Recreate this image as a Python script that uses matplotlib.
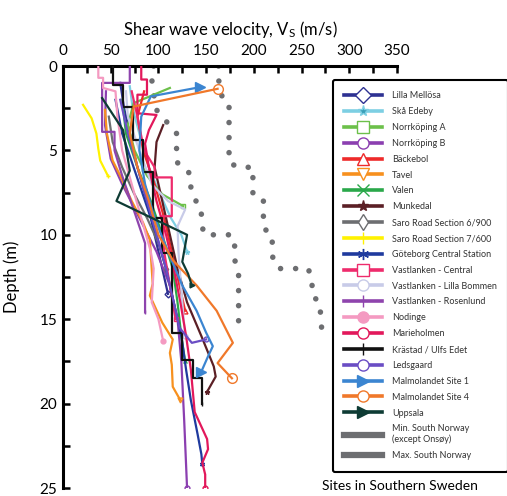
import matplotlib
matplotlib.use("Agg")
import matplotlib.pyplot as plt
from matplotlib.lines import Line2D
from matplotlib.ticker import MultipleLocator

plt.rcParams['font.family'] = ['Lato', 'DejaVu Sans']
plt.rcParams['mathtext.default'] = 'regular'

# ---- velocity profiles, Vs (m/s) against depth (m) ----
lilla_mellosa_v = [60, 64, 70, 78, 88, 96, 104, 110]
lilla_mellosa_d = [1.0, 2.5, 4, 6, 8, 10, 12, 13.5]
ska_edeby_v = [70, 73, 80, 90, 101, 113, 124, 130]
ska_edeby_d = [1.2, 2.5, 4, 6, 7.5, 9, 10, 11]
norrkoping_a_v = [112, 74, 68, 75, 88, 104, 126]
norrkoping_a_d = [1.3, 2.2, 3.5, 5, 6.5, 7.6, 8.3]
norrkoping_b_v = [45, 44, 50, 62, 80, 98, 112, 120, 124, 127, 130]
norrkoping_b_d = [1.5, 3.5, 5.5, 7, 9, 11, 13, 15, 17.5, 21, 25]
backebol_v = [85, 78, 84, 96, 106, 114, 122, 128]
backebol_d = [1.5, 3, 5, 7, 9, 11, 13, 14.5]
tavel_v = [44, 46, 52, 60, 72, 84, 91, 94, 91, 104, 115, 112, 114, 115, 123]
tavel_d = [2.6, 4, 5.6, 6.5, 8, 9.3, 10.3, 12.9, 13.6, 15.2, 16.2, 17, 17.7, 19, 19.8]
valen_v = [62, 66, 78, 92, 104, 115, 120, 124, 128]
valen_d = [2, 4, 6, 8, 10, 12, 14, 16, 17.5]
munkedal_v = [105, 98, 96, 104, 112, 120, 130, 145, 158, 160, 151]
munkedal_d = [3.5, 4.5, 6, 8, 10, 12, 14, 16, 17.8, 18.4, 19.3]
saro_6900_v = [48, 52, 62, 74, 88, 100, 108]
saro_6900_d = [3, 4.5, 6, 7.5, 9, 10.5, 12]
saro_7600_v = [21, 30, 35, 37, 39, 47]
saro_7600_d = [2.3, 3.1, 4.0, 4.9, 5.6, 6.5]
goteborg_v = [55, 62, 74, 86, 98, 108, 116, 124, 129, 134, 141, 145, 146]
goteborg_d = [2, 4, 6, 8, 10, 12, 14, 16, 18, 19.8, 21.8, 23, 23.6]
vl_central_v = [72, 78, 85, 96, 96, 114, 114, 104, 106, 112, 118]
vl_central_d = [1.5, 3, 5, 6, 6.6, 6.6, 8.9, 8.9, 11, 13, 15]
vl_bommen_v = [66, 68, 80, 93, 110, 128, 120, 121, 125, 128]
vl_bommen_d = [1.5, 3, 5, 7, 8, 8.5, 9.5, 11, 14, 16]
vl_rosenlund_v = [70, 70, 41, 41, 54, 54, 62, 74, 86, 86]
vl_rosenlund_d = [0, 1.0, 1.0, 3.9, 3.9, 5.0, 6.5, 8.5, 10.5, 14.6]
nodinge_v = [37, 37, 42, 42, 55, 57, 62, 72, 82, 92, 95, 93, 100, 105]
nodinge_d = [0, 0.7, 0.7, 1.3, 1.5, 3, 5, 7, 9, 11, 12, 14, 15, 16.3]
marieholmen_v = [82, 82, 88, 88, 78, 78, 98, 90, 86, 90, 98, 108, 116, 123,
                 129, 134, 138, 151, 152, 146, 149, 149]
marieholmen_d = [0, 0.8, 0.8, 1.7, 1.7, 2.8, 2.9, 3.8, 4.6, 6, 8, 10, 12, 14,
                 16, 18, 20.5, 22.1, 22.7, 23.5, 24.2, 25]
# layered profile: one velocity per layer, layer tops plus final base
kristad_layer_v = [52, 63, 73, 84, 94, 104, 114, 125, 136, 146]
kristad_layer_top = [0, 1.1, 2.4, 4.4, 6.3, 9.0, 11.1, 15.8, 17.4, 18.5]
kristad_base = 20.0
ledsgaard_v = [60, 68, 78, 88, 98, 108, 116, 122, 135, 150]
ledsgaard_d = [2, 4, 6, 8, 10, 12, 14, 15.5, 16.4, 16.2]
malmo1_v = [144, 92, 82, 80, 86, 96, 110, 125, 140, 150, 157, 152, 145]
malmo1_d = [1.25, 1.8, 3, 5, 7, 9, 11, 13, 14.5, 15.8, 16.6, 17.2, 18.1]
malmo4_v = [162, 74, 70, 78, 90, 100, 115, 140, 161, 178, 162, 177]
malmo4_d = [1.35, 2.4, 4, 6, 8, 10, 11.5, 13, 14.5, 16.4, 17.6, 18.5]
uppsala_v = [41, 63, 70, 56, 130, 125, 131, 135]
uppsala_d = [1.9, 3.8, 6.2, 8.0, 10.0, 11.6, 12.3, 13.0]

# South Norway envelopes
norway_min_v = [95, 93, 98, 119, 119, 128, 134, 134, 138, 145, 145, 148, 177,
                180, 180, 184, 184]
norway_min_d = [0, 1, 2.6, 4, 5.7, 6, 6.5, 7.2, 7.9, 8.4, 9.3, 10, 10, 10.7,
                11.5, 12.2, 15.9]
norway_max_v = [163, 163, 167, 174, 174, 183, 199, 199, 210, 210, 219, 220,
                227, 257, 261, 261, 269, 271.5]
norway_max_d = [0, 0.8, 1.9, 2.2, 5.7, 6, 6, 7.6, 7.9, 9.6, 10, 11.6, 12, 12,
                12.7, 13.6, 14, 15.9]

# build the stepped Krästad profile from its layers
kr_v, kr_d = [], []
bases = kristad_layer_top[1:] + [kristad_base]
for v, top, bot in zip(kristad_layer_v, kristad_layer_top, bases):
    kr_v += [v, v]
    kr_d += [top, bot]

sites = [
    ("Lilla Mellösa", lilla_mellosa_v, lilla_mellosa_d, "#2e3192", "D", "none"),
    ("Skå Edeby", ska_edeby_v, ska_edeby_d, "#7dcfe3", "*", "#3a9fb8"),
    ("Norrköping A", norrkoping_a_v, norrkoping_a_d, "#6cc04a", "s", "none"),
    ("Norrköping B", norrkoping_b_v, norrkoping_b_d, "#8b3fb0", "o", "none"),
    ("Bäckebol", backebol_v, backebol_d, "#ee2a2a", "^", "none"),
    ("Tavel", tavel_v, tavel_d, "#f7901e", "v", "none"),
    ("Valen", valen_v, valen_d, "#2aa84a", "x", "none"),
    ("Munkedal", munkedal_v, munkedal_d, "#5b1f25", "*", "#5b1f25"),
    ("Saro Road Section 6/900", saro_6900_v, saro_6900_d, "#6d6e71", "d", "none"),
    ("Saro Road Section 7/600", saro_7600_v, saro_7600_d, "#fff200", "+", "none"),
    ("Göteborg Central Station", goteborg_v, goteborg_d, "#1f3a9e", (6, 2, 0), "none"),
    ("Vastlanken - Central", vl_central_v, vl_central_d, "#ee2b6c", "s", "none"),
    ("Vastlanken - Lilla Bommen", vl_bommen_v, vl_bommen_d, "#c8cbe8", "o", "none"),
    ("Vastlanken - Rosenlund", vl_rosenlund_v, vl_rosenlund_d, "#8e44ad", "|", "none"),
    ("Nodinge", nodinge_v, nodinge_d, "#f49ac1", "o", "#f49ac1"),
    ("Marieholmen", marieholmen_v, marieholmen_d, "#e2185b", "o", "none"),
    ("Krästad / Ulfs Edet", kr_v, kr_d, "#111111", "|", "none"),
    ("Ledsgaard", ledsgaard_v, ledsgaard_d, "#6a4dc4", "o", "none"),
    ("Malmolandet Site 1", malmo1_v, malmo1_d, "#3b85d1", ">", "#3b85d1"),
    ("Malmolandet Site 4", malmo4_v, malmo4_d, "#f0782a", "o", "none"),
    ("Uppsala", uppsala_v, uppsala_d, "#0e3b34", ">", "#0e3b34"),
]

fig = plt.figure(figsize=(5.07, 4.96), dpi=100)
ax = fig.add_axes([63 / 507, 1 - 488 / 496, 334 / 507, 422 / 496])

grey = "#6d6e71"
dotted = dict(color=grey, lw=4.0, linestyle=(0, (0.01, 2.7)),
              dash_capstyle="round", zorder=2)
ax.plot(norway_min_v, norway_min_d, **dotted)
ax.plot(norway_max_v, norway_max_d, **dotted)

handles = []
for name, v, d, c, m, fc in sites:
    big = name.startswith("Malmolandet")
    ax.plot(v, d, color=c, lw=1.6, marker=m, ms=7 if big else 3.5,
            mfc=fc, mec=c, mew=1.0, markevery=[0, len(v) - 1] if big else [len(v) - 1],
            zorder=3)
    handles.append(Line2D([], [], color=c, lw=2.6, marker=m, ms=8,
                          mfc=fc if fc != "none" else "white", mec=c, mew=1.0,
                          label=name))
handles.append(Line2D([], [], color=grey, lw=4.5,
                      label="Min. South Norway\n(except Onsøy)"))
handles.append(Line2D([], [], color=grey, lw=4.5, label="Max. South Norway"))

ax.set_xlim(0, 350)
ax.set_ylim(25, 0)
ax.xaxis.set_ticks_position("top")
ax.xaxis.set_label_position("top")
ax.xaxis.set_major_locator(MultipleLocator(50))
ax.xaxis.set_minor_locator(MultipleLocator(25))
ax.yaxis.set_major_locator(MultipleLocator(5))
ax.yaxis.set_minor_locator(MultipleLocator(2.5))
ax.tick_params(which="both", direction="in", length=5, width=1.8, color="black")
ax.tick_params(axis="both", which="major", labelsize=11, pad=4)
ax.tick_params(axis="x", pad=6)
for s in ("right", "bottom"):
    ax.spines[s].set_visible(False)
for s in ("left", "top"):
    ax.spines[s].set_linewidth(2.2)
ax.set_xlabel("Shear wave velocity, V$_{S}$ (m/s)", fontsize=12, labelpad=6)
ax.set_ylabel("Depth (m)", fontsize=12, labelpad=14)

leg = ax.legend(handles=handles, loc="upper left",
                bbox_to_anchor=(333 / 507, 1 - 80 / 496),
                bbox_transform=fig.transFigure, borderaxespad=0,
                fontsize=6.5, labelcolor="#333333", handlelength=4.2,
                handletextpad=1.1, labelspacing=0.76, borderpad=1.25,
                numpoints=1, fancybox=True, framealpha=1)
leg.get_frame().set_edgecolor("black")
leg.get_frame().set_linewidth(1.5)

fig.text(400 / 507, 1 - 490 / 496, "Sites in Southern Sweden", fontsize=10,
         ha="center", va="baseline")

fig.savefig("out.png", dpi=100)
